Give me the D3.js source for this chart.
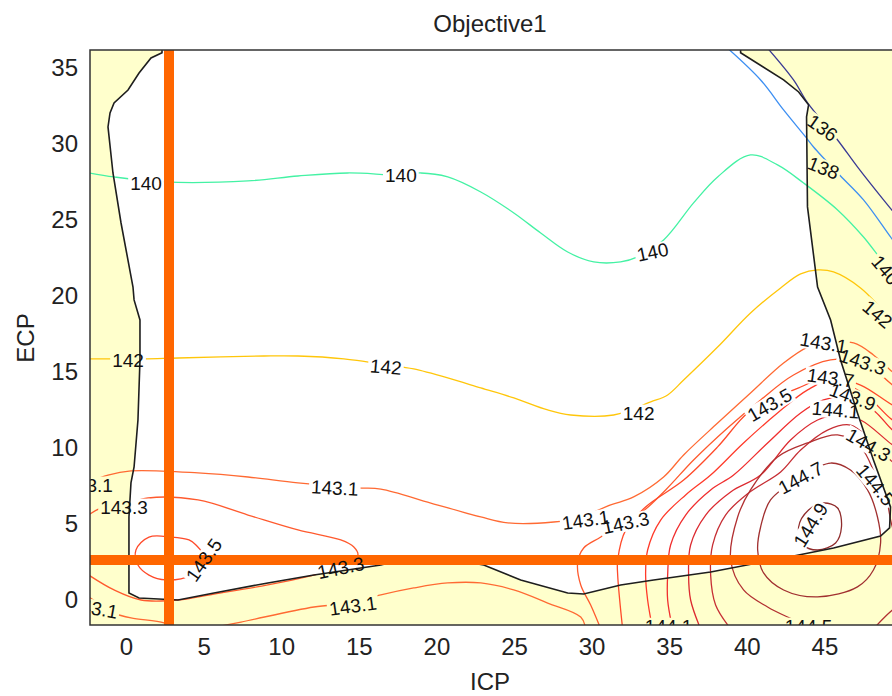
<!DOCTYPE html>
<html>
<head>
<meta charset="utf-8">
<script src="https://cdn.jsdelivr.net/npm/d3@7"></script>
<style>
body { margin: 0; background: #fff; }
text { font-family: "Liberation Sans", Arial, sans-serif; }
</style>
</head>
<body>
<svg id="chart" width="892" height="696"></svg>
<script>
// ---- data (ICP, ECP) ----
const xTicks = [0, 5, 10, 15, 20, 25, 30, 35, 40, 45];
const yTicks = [0, 5, 10, 15, 20, 25, 30, 35];

const levels = [136, 138, 140, 142, 143.1, 143.3, 143.5, 143.7, 143.9, 144.1, 144.3, 144.5, 144.7, 144.9];
const levelColors = ['#3a3a94', '#3d8ff2', '#44f2a4', '#ffc60a', '#ff6a33', '#ff5a2e', '#ff4a2a', '#ff3a2a',
                     '#f02e2e', '#dc2a30', '#c62e34', '#b23032', '#a13030', '#8f2c2c'];

// feasible region outline
const feasible = [[2.32,36.0],[1.61,35.66],[0.84,34.67],[0.13,33.55],[-0.77,32.70],[-1.03,32.04],[-1.16,31.12],
  [-0.84,28.09],[-0.32,24.80],[0.45,20.59],[0.52,19.74],[0.90,18.42],[0.90,15.79],[0.77,11.84],[0.52,8.75],
  [0.32,7.70],[0.19,5.46],[0.19,0.46],[0.84,0.13],[3.35,0.0],[5.67,0.46],[9.14,1.12],[12.11,1.64],[16.42,2.30],
  [17.71,2.63],[21.12,2.63],[23.05,2.30],[25.43,1.32],[28.46,0.46],[29.49,0.39],[31.87,0.99],[34.0,1.32],
  [37.67,1.84],[42.37,2.76],[45.59,3.42],[48.62,4.21],[49.2,4.74],[49.26,6.12],[48.16,9.21],[47.13,12.30],
  [46.04,15.79],[45.40,18.42],[44.56,20.59],[43.91,25.86],[43.85,31.78],[43.98,32.57],[43.34,33.42],
  [42.37,34.21],[39.6,36.0],[39.6,36.4],[2.32,36.4]];

const crossICP = 2.77;
const crossECP = 2.63;

const line136 = [[41.34,36.3],[43.01,34.21],[43.92,32.70],[45.85,30.26],[47.13,28.49],[48.81,26.32],[50.2,24.6]];
const line138 = [[38.76,36.3],[40.89,34.21],[42.37,32.24],[43.79,30.46],[44.3,29.8],[45.85,28.09],[47.52,26.32],
  [49.26,23.88],[50.2,22.6]];
const line140 = [[-2.4,28.1],[-0.77,27.83],[2.45,27.5],[7.86,27.57],[11.08,27.89],[14.29,28.09],[17.71,27.96],
  [19.0,28.09],[20.73,27.83],[22.86,26.84],[24.99,25.46],[26.72,24.14],[28.46,22.89],[30.14,22.24],[31.87,22.24],
  [32.97,22.57],[34.64,23.68],[36.57,26.12],[38.12,27.83],[40.24,29.28],[41.98,28.62],[43.66,27.43],[45.85,25.66],
  [47.52,23.88],[48.94,22.04],[50.2,20.7]];
const line142 = [[-2.4,15.86],[-0.97,15.86],[1.16,15.86],[3.35,15.92],[8.89,16.05],[11.08,16.05],[14.04,15.86],
  [17.71,15.33],[18.54,15.2],[20.73,14.61],[22.86,13.95],[24.99,13.29],[27.17,12.5],[28.65,12.17],[31.42,12.17],
  [33.81,13.03],[34.9,13.49],[35.93,14.47],[38.12,16.64],[40.24,18.88],[42.18,20.53],[43.47,21.45],[44.56,21.71],
  [45.59,21.58],[47.33,20.53],[48.62,19.21],[50.2,17.4]];
const line1431a = [[-2.4,7.76],[-1.16,8.22],[0.32,8.49],[4.64,8.36],[7.86,8.09],[11.08,7.70],[14.94,7.37],
  [16.42,7.30],[19.64,6.38],[22.86,5.46],[24.60,5.07],[27.56,5.13],[29.10,5.39],[31.23,6.25],[32.71,6.78],
  [34.64,8.09],[35.93,9.54],[38.12,11.64],[40.24,13.62],[42.37,15.59],[43.92,16.64],[44.94,16.91],[46.88,16.91],
  [48.16,16.12],[49.39,15.0],[50.2,14.4]];
const line1431b = [[-2.4,0.2],[-1.61,-0.33],[-0.77,-0.86],[0.32,-1.18],[2.45,-1.51],[3.22,-1.9]];
const line1431c = [[5.15,-1.9],[7.41,-1.45],[12.11,-0.46],[14.49,-0.20],[16.42,0.33],[18.54,0.79],[20.73,1.12],
  [22.86,1.12],[24.98,0.66],[27.17,-0.20],[29.30,-1.12],[29.62,-1.9]];
const line1433a = [[-2.4,5.6],[-1.61,6.05],[-0.13,6.25],[1.42,6.71],[4.64,6.58],[7.86,5.59],[11.08,4.61],
  [13.84,3.95],[14.68,3.49],[14.94,2.96],[13.84,2.11],[12.11,1.64],[9.14,0.99],[5.67,0.39],[3.35,0.0],
  [0.97,0.0],[-0.77,0.66],[-2.4,1.64]];
const line1433b = [[30.59,-1.9],[29.94,-0.33],[29.30,0.99],[29.10,2.43],[29.49,3.42],[30.59,4.14],[31.87,5.07],
  [33.16,5.72],[34.77,7.24],[36.57,9.21],[38.76,11.32],[40.89,13.16],[43.01,14.80],[45.40,15.79],[47.46,15.66],
  [49.39,14.14],[50.2,13.5]];
const line1435a = [[0.64,3.29],[1.48,4.14],[2.90,4.14],[4.06,3.95],[4.51,3.62],[5.15,2.63],[4.19,1.64],
  [2.58,1.32],[1.48,1.64],[0.77,2.30]];
const line1435b = [[32.0,-1.9],[31.81,0.0],[31.68,1.64],[31.68,2.63],[32.2,4.61],[33.48,6.12],[35.93,7.89],
  [38.12,10.07],[40.05,12.30],[41.53,13.16],[43.47,14.01],[45.20,14.67],[47.33,14.14],[49.39,12.83],[50.2,12.5]];
const line1437 = [[33.93,-1.9],[33.61,0.0],[33.48,1.64],[33.61,3.29],[34.45,5.26],[36.06,6.91],[37.67,8.22],
  [39.79,10.33],[41.98,12.30],[43.92,13.82],[45.52,14.47],[47.65,13.49],[49.39,11.84],[50.2,11.5]];
const line1439 = [[35.22,-1.9],[34.90,0.0],[34.90,1.64],[35.09,3.62],[36.06,5.59],[37.67,7.24],[39.15,8.22],
  [41.34,10.33],[43.47,12.30],[44.94,13.16],[46.81,13.36],[48.29,12.37],[49.39,11.18],[50.2,10.7]];
const line1441 = [[37.02,-1.9],[36.38,0.0],[36.25,1.64],[36.38,3.62],[37.35,5.59],[38.96,7.11],[40.89,8.22],
  [42.82,10.53],[44.56,11.84],[45.85,12.17],[47.33,11.84],[49.39,10.20],[50.2,9.7]];
const line1443 = [[38.96,-1.9],[37.99,-0.33],[37.67,1.64],[37.80,3.62],[38.63,5.59],[40.12,7.04],[42.18,8.42],
  [43.47,9.87],[45.20,11.18],[46.68,11.51],[47.97,10.53],[49.39,9.08],[50.2,8.5]];
const line1445a = [[44.43,-1.9],[42.63,-1.12],[41.34,-0.46],[39.79,0.66],[38.96,2.63],[39.41,5.46],[40.24,7.24],
  [41.98,9.41],[43.92,10.33],[45.85,10.86],[47.33,10.07],[48.29,8.22],[49.0,6.58],[49.45,4.61],[50.2,3.6]];
const line1445b = [[48.16,-1.9],[49.39,-0.66],[50.2,-0.13]];
const line1447 = [[45.40,9.01],[46.68,8.55],[47.78,7.24],[48.42,5.46],[48.62,3.75],[48.16,1.97],[47.13,0.86],
  [44.56,0.20],[42.37,0.66],[41.08,1.78],[40.70,3.29],[40.89,4.80],[41.53,6.58],[43.47,8.09]];
const line1449 = [[44.94,6.38],[45.85,6.05],[46.10,4.80],[45.72,3.75],[44.56,3.29],[43.66,3.62],[43.34,4.80],
  [43.98,5.92]];

// contour label values and where they sit
const labelValues = [136, 138, 140, 140, 140, 140, 142, 142, 142, 142,
  143.1, 143.1, 143.1, 143.1, 143.1, 143.1, 143.3, 143.3, 143.3, 143.3,
  143.5, 143.5, 143.7, 143.9, 144.1, 144.1, 144.3, 144.5, 144.5, 144.7, 144.9];
const labelICP = [44.88, 44.94, 1.29, 17.71, 33.93, 48.94, 0.13, 16.74, 33.03, 48.42,
  -2.38, 13.45, 29.62, 44.94, -2.06, 14.62, -0.13, 13.84, 32.2, 47.46,
  5.02, 41.47, 45.40, 46.81, 45.72, 34.96, 47.84, 48.29, 43.98, 43.47, 44.11];
const labelECP = [31.05, 28.42, 27.43, 27.96, 22.89, 21.7, 15.79, 15.33, 12.3, 18.8,
  7.57, 7.37, 5.26, 16.91, -0.53, -0.39, 6.12, 2.11, 5.07, 15.66,
  2.63, 12.83, 14.61, 13.36, 12.5, -1.72, 10.2, 7.57, -1.71, 8.03, 4.93];
const labelAngle = [35, 22, 0, 0, -12, 50, 0, 5, 0, 40,
  0, 3, -8, 10, 10, -8, 0, -12, -12, 18,
  -55, -30, 8, 20, 5, 0, 30, 50, 0, -28, -58];

// ---- chart ----
const svg = d3.select('#chart');
const x = d3.scaleLinear().domain([-2.32, 50]).range([90, 902]);
const y = d3.scaleLinear().domain([-1.645, 36.18]).range([625, 50]);
const color = d3.scaleOrdinal().domain(levels).range(levelColors);

const contours = [
  {level: 136, pts: line136}, {level: 138, pts: line138}, {level: 140, pts: line140}, {level: 142, pts: line142},
  {level: 143.1, pts: line1431a}, {level: 143.1, pts: line1431b}, {level: 143.1, pts: line1431c},
  {level: 143.3, pts: line1433a}, {level: 143.3, pts: line1433b},
  {level: 143.5, pts: line1435a, closed: true}, {level: 143.5, pts: line1435b},
  {level: 143.7, pts: line1437}, {level: 143.9, pts: line1439}, {level: 144.1, pts: line1441},
  {level: 144.3, pts: line1443}, {level: 144.5, pts: line1445a}, {level: 144.5, pts: line1445b},
  {level: 144.7, pts: line1447, closed: true}, {level: 144.9, pts: line1449, closed: true}
];

const defs = svg.append('defs');
defs.append('clipPath').attr('id', 'plotClip')
  .append('rect').attr('x', 90).attr('y', 50).attr('width', 812).attr('height', 575);
const mask = defs.append('mask').attr('id', 'labelMask')
  .attr('maskUnits', 'userSpaceOnUse')
  .attr('x', 0).attr('y', 0).attr('width', 892).attr('height', 696);
mask.append('rect').attr('width', 892).attr('height', 696).attr('fill', '#fff');

const plot = svg.append('g').attr('clip-path', 'url(#plotClip)');

plot.append('rect')
  .attr('x', 90).attr('y', 50).attr('width', 812).attr('height', 575)
  .attr('fill', '#ffffcc');

const lineLinear = d3.line().x(d => x(d[0])).y(d => y(d[1]));
plot.append('path')
  .attr('d', lineLinear(feasible) + 'Z')
  .attr('fill', '#fff');

const openLine = d3.line().x(d => x(d[0])).y(d => y(d[1])).curve(d3.curveCatmullRom.alpha(0.5));
const closedLine = d3.line().x(d => x(d[0])).y(d => y(d[1])).curve(d3.curveCatmullRomClosed.alpha(0.5));

plot.append('g').attr('mask', 'url(#labelMask)')
  .selectAll('path')
  .data(contours)
  .join('path')
  .attr('d', d => (d.closed ? closedLine : openLine)(d.pts))
  .attr('fill', 'none')
  .attr('stroke', d => color(d.level))
  .attr('stroke-width', 1.3);

plot.append('path')
  .attr('d', lineLinear(feasible) + 'Z')
  .attr('fill', 'none')
  .attr('stroke', '#1e1e1e')
  .attr('stroke-width', 1.6);

// crosshair at the selected point
plot.append('line')
  .attr('x1', x(crossICP)).attr('x2', x(crossICP))
  .attr('y1', 50).attr('y2', 625)
  .attr('stroke', '#ff6600').attr('stroke-width', 10);
plot.append('line')
  .attr('x1', 90).attr('x2', 902)
  .attr('y1', y(crossECP)).attr('y2', y(crossECP))
  .attr('stroke', '#ff6600').attr('stroke-width', 10);

// contour labels
const labels = plot.append('g')
  .selectAll('text')
  .data(labelValues)
  .join('text')
  .attr('transform', (d, i) => `translate(${x(labelICP[i])},${y(labelECP[i])}) rotate(${labelAngle[i]})`)
  .attr('text-anchor', 'middle')
  .attr('dy', '0.35em')
  .style('font-size', '19px')
  .attr('fill', '#111')
  .text(d => d);

labels.each(function(d, i) {
  const b = this.getBBox();
  mask.append('rect')
    .attr('transform', `translate(${x(labelICP[i])},${y(labelECP[i])}) rotate(${labelAngle[i]})`)
    .attr('x', b.x - 2).attr('y', b.y + 2)
    .attr('width', b.width + 4).attr('height', b.height - 4)
    .attr('fill', '#000');
});

// frame
svg.append('rect')
  .attr('x', 90).attr('y', 50).attr('width', 812).attr('height', 575)
  .attr('fill', 'none').attr('stroke', '#333').attr('stroke-width', 1.5);

// axes
const xAxis = d3.axisBottom(x).tickValues(xTicks).tickSize(0).tickPadding(13);
const yAxis = d3.axisLeft(y).tickValues(yTicks).tickSize(0).tickPadding(12);

const gx = svg.append('g').attr('transform', 'translate(0,625)').call(xAxis);
const gy = svg.append('g').attr('transform', 'translate(90,0)').call(yAxis);
[gx, gy].forEach(g => {
  g.select('.domain').remove();
  g.selectAll('text')
    .style('font-size', '24px')
    .style('font-family', '"Liberation Sans", Arial, sans-serif')
    .attr('fill', '#222');
});

svg.append('text')
  .attr('x', 490).attr('y', 32)
  .attr('text-anchor', 'middle')
  .style('font-size', '24px')
  .attr('fill', '#222')
  .text('Objective1');

svg.append('text')
  .attr('x', 490).attr('y', 690)
  .attr('text-anchor', 'middle')
  .style('font-size', '24px')
  .attr('fill', '#222')
  .text('ICP');

svg.append('text')
  .attr('transform', 'translate(34,338) rotate(-90)')
  .attr('text-anchor', 'middle')
  .style('font-size', '24px')
  .attr('fill', '#222')
  .text('ECP');
</script>
</body>
</html>
